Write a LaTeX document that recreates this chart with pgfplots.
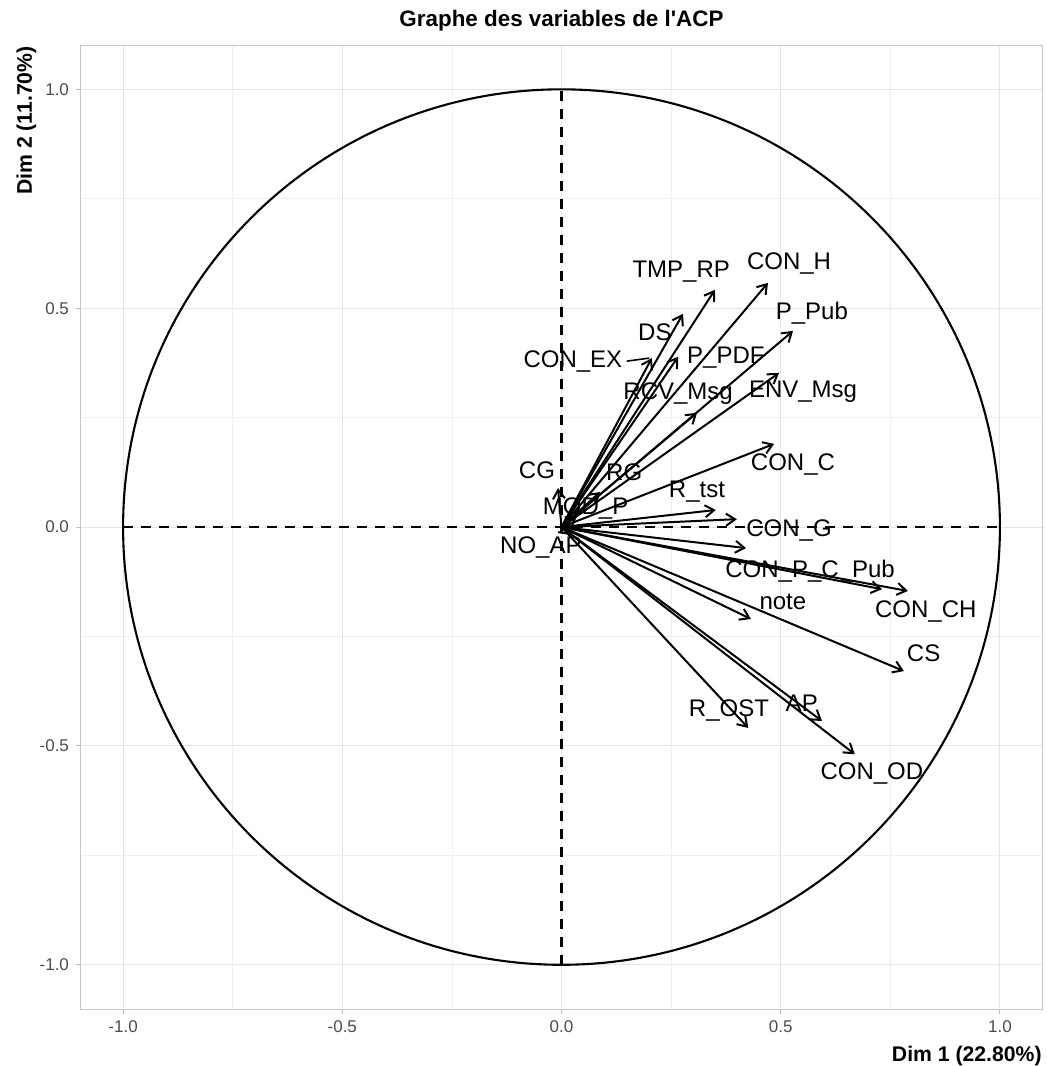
\documentclass[border=0pt]{standalone}
\usepackage{fontspec}
\setmainfont{Liberation Sans}
\usepackage{pgfplots}
\usepackage{pgfplotstable}
\pgfplotsset{compat=1.18}
\usetikzlibrary{arrows.meta}

% variable coordinates on Dim 1 / Dim 2
\pgfplotstableread{
x0 y0 x y
0 0 0.350 0.542
0 0 0.471 0.558
0 0 0.277 0.487
0 0 0.206 0.386
0 0 0.266 0.389
0 0 0.528 0.448
0 0 0.496 0.352
0 0 0.309 0.261
0 0 0.485 0.190
0 0 -0.008 0.089
0 0 0.088 0.080
0 0 0.035 0.025
0 0 0.352 0.039
0 0 0.400 0.018
0 0 0.020 -0.018
0 0 0.421 -0.048
0 0 0.731 -0.142
0 0 0.790 -0.146
0 0 0.432 -0.210
0 0 0.781 -0.329
0 0 0.426 -0.459
0 0 0.594 -0.443
0 0 0.669 -0.519
}\vars

% label positions (repelled)
\pgfplotstableread{
lx ly name
0.273 0.583 TMP\_RP
0.519 0.601 CON\_H
0.571 0.489 P\_Pub
0.213 0.446 DS
0.026 0.379 CON\_EX
0.375 0.386 P\_PDF
0.266 0.304 RCV\_Msg
0.551 0.309 ENV\_Msg
0.528 0.144 CON\_C
-0.056 0.130 CG
0.143 0.126 RG
0.309 0.080 R\_tst
0.055 0.043 MOD\_P
0.519 -0.007 CON\_G
-0.047 -0.046 NO\_AP
0.567 -0.101 CON\_P\_C\_Pub
0.505 -0.171 note
0.831 -0.192 CON\_CH
0.826 -0.288 CS
0.548 -0.402 AP
0.382 -0.418 R\_OST
0.708 -0.562 CON\_OD
}\labs

\begin{document}
\begin{tikzpicture}
\begin{axis}[
    scale only axis,
    width=480.5pt, height=481.5pt,
    xmin=-1.096, xmax=1.096,
    ymin=-1.101, ymax=1.099,
    xtick={-1,-0.5,0,0.5,1},
    ytick={-1,-0.5,0,0.5,1},
    minor tick num=1,
    grid=both,
    major grid style={gray!20, line width=0.55pt},
    minor grid style={gray!12, line width=0.35pt},
    tick pos=left,
    tick align=outside,
    major tick length=2.5pt,
    minor tick length=0pt,
    tick style={gray!50, line width=0.5pt},
    axis line style={gray!45, line width=0.5pt},
    ticklabel style={font=\fontsize{8.5}{10}\selectfont, text=black!70},
    clip=false,
    /pgf/number format/.cd, fixed, fixed zerofill, precision=1, assume math mode=true
]
% reference lines and unit circle
\addplot[black, dash pattern=on 5pt off 4pt, line width=1.1pt] coordinates {(-1,0) (1,0)};
\addplot[black, dash pattern=on 5pt off 4pt, line width=1.1pt] coordinates {(0,-1) (0,1)};
\draw[black, line width=1.05pt] (axis cs:0,0) ellipse [x radius=1, y radius=1];

% arrows
\addplot[black, line width=1pt, -{Straight Barb[length=4.5pt, width=6pt]},
    quiver={u=\thisrow{x}, v=\thisrow{y}}] table[x=x0, y=y0] {\vars};

% connector from CON_EX label
\addplot[black, line width=0.8pt] coordinates {(0.149,0.379) (0.200,0.386)};

% labels
\addplot[only marks, mark=none, point meta=explicit symbolic,
    nodes near coords={\fontsize{12}{14}\selectfont\pgfplotspointmeta},
    nodes near coords align=center,
    every node near coords/.append style={text=black, inner sep=0pt}]
    table[x=lx, y=ly, meta=name] {\labs};

\node[anchor=base, inner sep=0pt, font=\bfseries\fontsize{11.2}{13}\selectfont] at (rel axis cs:0.5,1) [yshift=9.5pt] {Graphe des variables de l\textquotesingle ACP};
\node[anchor=base east, inner sep=0pt, font=\bfseries\fontsize{10.6}{12}\selectfont] at (rel axis cs:1,0) [yshift=-26pt] {Dim 1 (22.80\%)};
\path (rel axis cs:0,1) ++(-24.5pt,0pt) node[anchor=base east, rotate=90, inner sep=0pt, font=\bfseries\fontsize{10.6}{12}\selectfont] {Dim 2 (11.70\%)};
\end{axis}
\path (current axis.south west) ++(-40.5pt,-28.5pt) (current axis.north east) ++(2pt,23pt);
\end{tikzpicture}
\end{document}
